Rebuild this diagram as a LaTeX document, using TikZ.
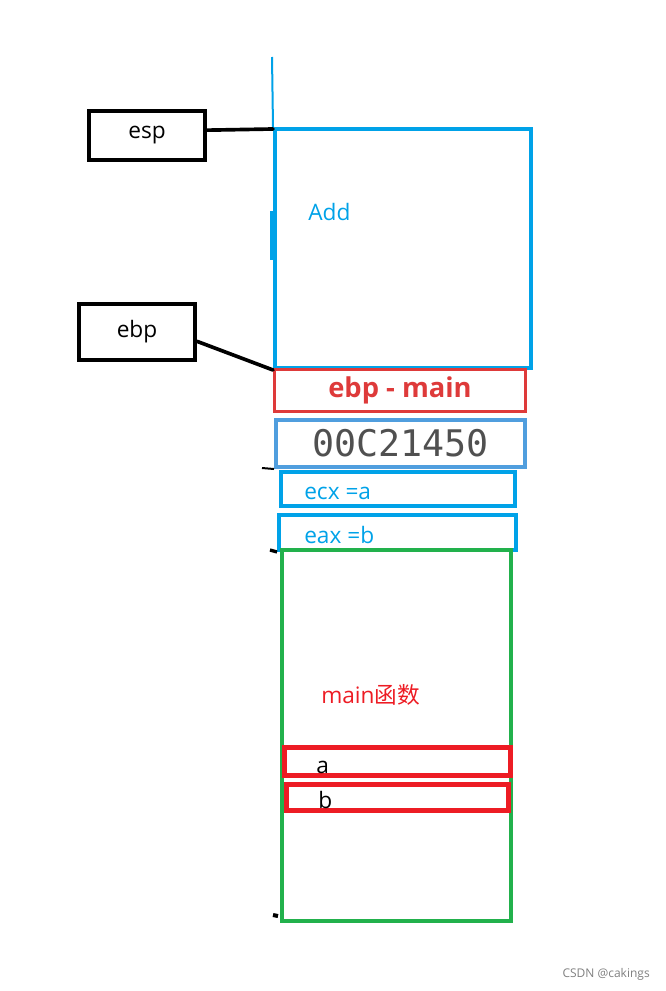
\documentclass[tikz,border=0pt]{standalone}
\usepackage{fontspec}
\setmainfont{Open Sans}
\newfontfamily\cjkfont{Noto Sans CJK SC}
\newfontfamily\hexfont{DejaVu Sans Mono}
\usepackage{xcolor}
\definecolor{stackblue}{RGB}{0,162,232}
\definecolor{hexblue}{RGB}{80,158,222}
\definecolor{framered}{RGB}{222,58,58}
\definecolor{varred}{RGB}{237,28,36}
\definecolor{mainframe}{RGB}{34,177,76}
\definecolor{hexgray}{RGB}{80,80,80}

\begin{document}
\begin{tikzpicture}[
    x=0.75pt,y=-0.75pt,
    reg/.style={rectangle,draw=black,line width=3pt,inner sep=0pt,
      minimum width=87pt,font=\fontsize{17}{20}\selectfont},
    frame/.style={rectangle,draw=stackblue,line width=3pt,inner sep=0pt},
    slot/.style={rectangle,draw=stackblue,line width=3pt,inner sep=0pt},
    var/.style={rectangle,draw=varred,line width=3.75pt,inner sep=0pt},
    txt/.style={anchor=west,inner sep=0pt,font=\fontsize{17}{20}\selectfont},
    pointer/.style={draw=black,line width=2.75pt,line cap=round}
  ]
    \useasboundingbox (0,0) rectangle (665,991);
    % registers
    \node[reg,minimum height=36.75pt] (esp) at (147,135.5) {esp};
    \node[reg,minimum height=42pt] (ebp) at (137,332) {ebp};
    % Add frame
    \coordinate (stacktop) at (272,57);
    \node[frame,minimum width=192pt,minimum height=179.25pt] (add) at (403,248.5) {};
    \node[txt,text=stackblue] (addlbl) at (308,212) {Add};
    \draw[stackblue,line width=1.5pt] (stacktop) -- (add.north west);
    \draw[stackblue,line width=4.5pt] ([yshift=-63pt]add.north west) -- ++(0,49);
    % saved values
    \node[rectangle,draw=framered,line width=2.25pt,inner sep=0pt,
      minimum width=188.25pt,minimum height=31.5pt,text=framered,
      font=\fontsize{20.5}{22}\selectfont\bfseries] (oldebp) at (400,390.5) {ebp - main};
    \node[rectangle,draw=hexblue,line width=3pt,inner sep=0pt,
      minimum width=186.75pt,minimum height=35.25pt,text=hexgray,
      font=\hexfont\fontsize{27.5}{30}\selectfont] (retaddr) at (400.5,443.5) {00C21450};
    \node[slot,minimum width=175.5pt,minimum height=25.5pt] (ecx) at (398,489) {};
    \node[txt,text=stackblue] (ecxlbl) at (304,493) {ecx =a};
    \node[slot,minimum width=177.75pt,minimum height=26.25pt] (eax) at (397.5,532.5) {};
    \node[txt,text=stackblue] (eaxlbl) at (304,535) {eax =b};
    % main frame
    \node[rectangle,draw=mainframe,line width=3pt,inner sep=0pt,
      minimum width=171.75pt,minimum height=278.25pt] (main) at (396.5,735.5) {};
    \node[txt,text=varred] (mainlbl) at (321,695) {main{\cjkfont 函数}};
    \node[var,minimum width=169.5pt,minimum height=21pt] (vara) at (397.5,761.5) {};
    \node[txt] (alb) at (316,767) {a};
    \node[var,minimum width=166.5pt,minimum height=19.5pt] (varb) at (397.5,797.5) {};
    \node[txt] (blb) at (318,800) {b};
    % pointers
    \draw[pointer] ([yshift=4pt]esp.east) -- ([yshift=-1.5pt]add.north west);
    \draw[pointer] ([yshift=-7pt]ebp.east) -- (add.south west);
    % stray marks
    \coordinate (m1) at (262,468);
    \coordinate (m2) at (270,550);
    \coordinate (m3) at (273,915);
    \draw[black,line width=1.5pt] (m1) -- (retaddr.south west);
    \draw[black,line width=2.5pt] (m2) -- (eax.south west);
    \draw[black,line width=3pt] (m3) -- ++(5,1);
    \node[anchor=east,inner sep=0pt,text=gray,font=\fontsize{9}{10}\selectfont] (mark) at (650,974) {CSDN @cakings};
\end{tikzpicture}
\end{document}
